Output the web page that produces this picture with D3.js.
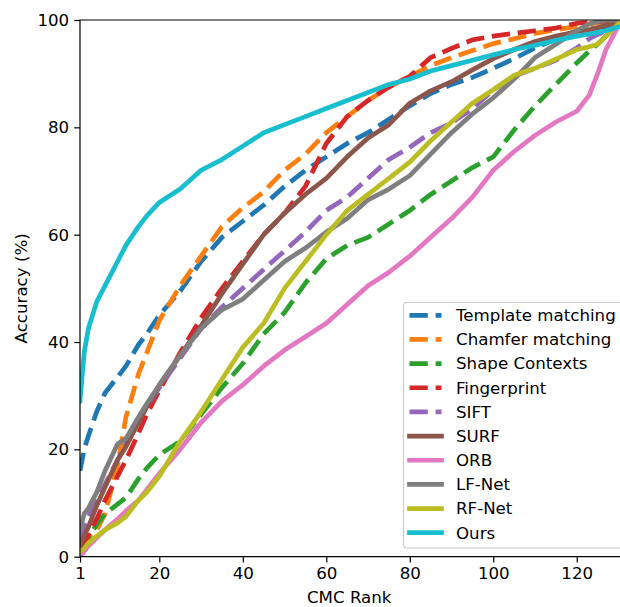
<!DOCTYPE html>
<html lang="en">
<head>
  <meta charset="UTF-8">
  <title>CMC curves</title>
  <script src="https://d3js.org/d3.v7.min.js"></script>
  <style>
    body { margin: 0; background: #fff; }
    svg { display: block; font-family: "DejaVu Sans", sans-serif; }
  </style>
</head>
<body>
  <svg id="chart" width="620" height="607"></svg>

  <script>
    // CMC ranks shared by all curves
    const ranks = [1, 2, 3, 5, 7, 10, 12, 15, 17, 20, 25, 30, 35, 40, 45, 50, 55, 60, 65, 70,
                   75, 80, 85, 90, 95, 100, 105, 110, 115, 120, 123, 125, 127, 130];

    const templateMatching = [16, 20, 22.5, 27, 30.5, 33.5, 35.5, 39.5, 41.5, 45, 49.5, 55, 59.5, 62.5, 65.5, 69, 72, 74.5, 77, 79,
                              81.5, 84, 86.3, 88, 89.3, 91, 92.8, 94.8, 96.5, 98, 98.3, 98.5, 98.8, 99.2];
    const chamferMatching = [1.5, 2.5, 3.5, 5, 8, 17, 26, 34, 38, 44, 50.5, 56, 61.5, 65, 68, 72, 75, 79, 82, 85,
                             87.5, 89.5, 91.5, 93, 94.3, 95.6, 96.5, 97.5, 98.2, 98.8, 99.2, 99.5, 99.7, 100];
    const shapeContexts = [1, 2.5, 3.5, 6, 8, 9.8, 11, 14.5, 16.5, 19, 21.5, 26.5, 31.5, 36, 41.5, 45.5, 51, 55.5, 58, 59.5,
                           62, 64.5, 67.5, 70, 72.5, 74.5, 79.5, 84, 88, 92, 94.2, 95.5, 97, 99];
    const fingerprint = [1.5, 2.5, 4, 7, 10.5, 15, 18, 23, 26.5, 31, 38, 44.5, 50, 55, 60, 64, 69, 77, 82, 85,
                         87.5, 89.5, 93, 94.7, 96.3, 97, 97.5, 98, 98.5, 99.4, 99.6, 99.7, 99.8, 100];
    const sift = [3, 5.5, 7.5, 10.5, 13.5, 18, 21, 25, 28, 31.5, 37, 42.5, 46.5, 50, 53.5, 57, 60.5, 64.5, 67, 70.5,
                  74, 76.3, 79, 80.8, 83.5, 87, 89.5, 91, 92.5, 94.8, 96.5, 97.3, 98, 98.8];
    const surf = [2, 4, 5.5, 9.5, 13, 18, 20.5, 25, 28, 32, 37.5, 43, 49, 54.5, 60, 64, 67.5, 70.5, 74.5, 78,
                  80.5, 84.5, 86.8, 88.5, 90.7, 92.8, 94.5, 96, 97, 97.8, 98.2, 98.6, 99, 99.5];
    const orb = [0, 1, 2, 3.5, 5, 7, 8.5, 10.5, 12.5, 15.5, 20, 25, 29, 32, 35.5, 38.5, 41, 43.5, 47, 50.5,
                 53, 56, 59.5, 63, 67, 72, 75.5, 78.5, 81, 83, 86, 90, 94.5, 99];
    const lfNet = [5, 8, 9, 12, 16, 21, 22, 26, 28.5, 32, 37.5, 42.5, 46, 48, 51.5, 55, 57.5, 60.5, 63, 66.5,
                   68.5, 71, 75, 79, 82.5, 85.5, 89, 93, 95.5, 98, 99.3, 99.7, 100, 100];
    const rfNet = [1, 1.5, 2.5, 3.8, 5, 6.3, 7.5, 10.5, 12, 15, 21.5, 27, 33, 39, 43.5, 50, 55, 60, 64.5, 67.5,
                   70.5, 73.5, 77.5, 81, 84.5, 87, 89.7, 91, 92.7, 94.5, 95, 95.5, 97, 99.3];
    const ours = [29, 38, 42.5, 47.5, 50.5, 55, 58, 61.5, 63.5, 66, 68.5, 72, 74, 76.5, 79, 80.5, 82, 83.5, 85, 86.5,
                  88, 89, 90.5, 91.5, 92.5, 93.5, 94.5, 95.3, 96.2, 97, 97.4, 97.7, 98, 98.7];

    const methodNames = ['Template matching', 'Chamfer matching', 'Shape Contexts', 'Fingerprint', 'SIFT',
                         'SURF', 'ORB', 'LF-Net', 'RF-Net', 'Ours'];
    const methodValues = [templateMatching, chamferMatching, shapeContexts, fingerprint, sift,
                          surf, orb, lfNet, rfNet, ours];
    const methodDashed = [true, true, true, true, true, false, false, false, false, false];
    const colors = ['#1f77b4', '#ff7f0e', '#2ca02c', '#d62728', '#9467bd',
                    '#8c564b', '#e377c2', '#7f7f7f', '#bcbd22', '#17becf'];

    const xTicks = [1, 20, 40, 60, 80, 100, 120];
    const yTicks = [0, 20, 40, 60, 80, 100];

    // layout (the right edge of the axes falls just outside the picture)
    const plotLeft = 80, plotRight = 618.5, plotTop = 20, plotBottom = 556.7;
    const fs = 16.67;
    const dash = '18.3,7.8';
    const lw = 4.7;

    const svg = d3.select('#chart');

    const x = d3.scaleLinear().domain([1, 130]).range([plotLeft, plotRight]);
    const y = d3.scaleLinear().domain([0, 100]).range([plotBottom, plotTop]);

    svg.append('defs').append('clipPath').attr('id', 'plotClip')
      .append('rect')
      .attr('x', plotLeft).attr('y', plotTop)
      .attr('width', 640 - plotLeft).attr('height', plotBottom - plotTop);

    const line = d3.line()
      .x((d, i) => x(ranks[i]))
      .y(d => y(d));

    const plot = svg.append('g').attr('clip-path', 'url(#plotClip)');

    methodValues.forEach((vals, k) => {
      plot.append('path')
        .datum(vals)
        .attr('d', line)
        .attr('fill', 'none')
        .attr('stroke', colors[k])
        .attr('stroke-width', lw)
        .attr('stroke-linejoin', 'round')
        .attr('stroke-linecap', methodDashed[k] ? 'butt' : 'square')
        .attr('stroke-dasharray', methodDashed[k] ? dash : null);
    });

    // axes
    const xAxis = svg.append('g')
      .attr('transform', `translate(0,${plotBottom})`)
      .call(d3.axisBottom(x).tickValues(xTicks).tickSize(5.8).tickPadding(5));
    const yAxis = svg.append('g')
      .attr('transform', `translate(${plotLeft},0)`)
      .call(d3.axisLeft(y).tickValues(yTicks).tickSize(5.8).tickPadding(5));

    [xAxis, yAxis].forEach(g => {
      g.selectAll('text').attr('font-size', fs).attr('fill', '#000')
        .attr('font-family', '"DejaVu Sans", sans-serif');
      g.selectAll('line').attr('stroke', '#000').attr('stroke-width', 1.2);
      g.select('.domain').remove();
    });

    // spines: left, bottom, top (right one is off the picture)
    svg.append('path')
      .attr('d', `M625,${plotTop}H${plotLeft}V${plotBottom}H625`)
      .attr('fill', 'none')
      .attr('stroke', '#000').attr('stroke-width', 1.2);

    // axis titles
    svg.append('text')
      .attr('x', (plotLeft + plotRight) / 2).attr('y', 603)
      .attr('text-anchor', 'middle')
      .attr('font-size', fs)
      .text('CMC Rank');

    svg.append('text')
      .attr('transform', `translate(27,${(plotTop + plotBottom) / 2}) rotate(-90)`)
      .attr('text-anchor', 'middle')
      .attr('font-size', fs)
      .text('Accuracy (%)');

    // legend
    const legend = svg.append('g');
    legend.append('rect')
      .attr('x', 403.5).attr('y', 302.5)
      .attr('width', 230).attr('height', 245.5)
      .attr('rx', 3)
      .attr('fill', '#fff').attr('fill-opacity', 0.8)
      .attr('stroke', '#cccccc').attr('stroke-width', 1.1);

    const rowY = d3.scaleLinear().domain([0, 9]).range([315.3, 532.7]);

    methodNames.forEach((name, k) => {
      const g = legend.append('g').attr('transform', `translate(0,${rowY(k)})`);
      g.append('line')
        .attr('x1', 409.5).attr('x2', 441.5)
        .attr('stroke', colors[k])
        .attr('stroke-width', lw)
        .attr('stroke-linecap', methodDashed[k] ? 'butt' : 'square')
        .attr('stroke-dasharray', methodDashed[k] ? dash : null);
      g.append('text')
        .attr('x', 456).attr('dy', '0.35em')
        .attr('font-size', fs)
        .text(name);
    });
  </script>
</body>
</html>
